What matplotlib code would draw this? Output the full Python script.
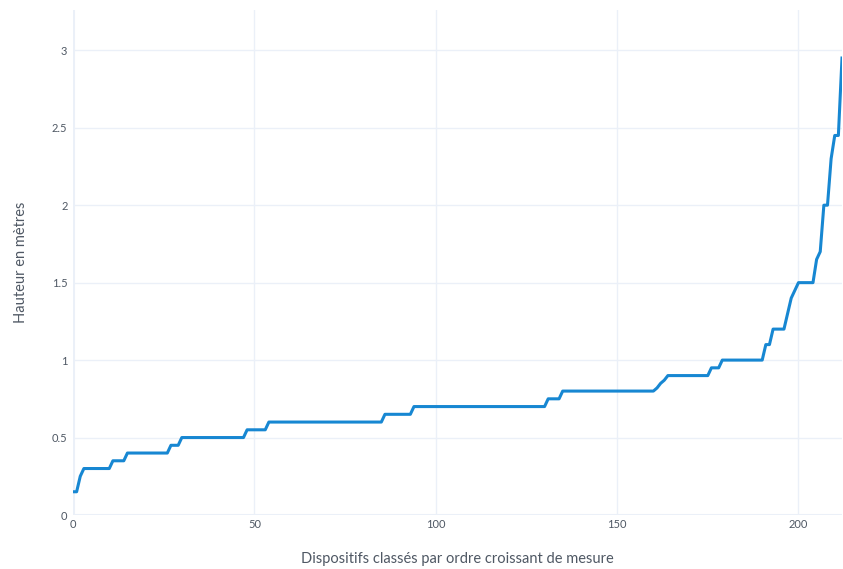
import matplotlib
matplotlib.use("Agg")
from matplotlib import pyplot as plt

hauteurs = (
    [0.15, 0.15, 0.25]
    + [0.3] * 8
    + [0.35] * 4
    + [0.4] * 12
    + [0.45] * 3
    + [0.5] * 18
    + [0.55] * 6
    + [0.6] * 32
    + [0.65] * 8
    + [0.7] * 37
    + [0.75] * 4
    + [0.8] * 26
    + [0.82, 0.85, 0.87]
    + [0.9] * 12
    + [0.95] * 3
    + [1.0] * 12
    + [1.1, 1.1]
    + [1.2] * 4
    + [1.3, 1.4, 1.45]
    + [1.5] * 5
    + [1.65, 1.7, 2.0, 2.0, 2.3, 2.45, 2.45, 2.95]
)
rangs = list(range(len(hauteurs)))

x_ticks = [0, 50, 100, 150, 200]
y_ticks = [0, 0.5, 1, 1.5, 2, 2.5, 3]
y_labels = ['0', '0.5', '1', '1.5', '2', '2.5', '3']

grid_c = '#ebf0f8'
text_c = '#4f5864'
plt.rcParams['font.family'] = ['Lato', 'DejaVu Sans']

fig = plt.figure(dpi=100, figsize=(8.43, 5.69))
ax = fig.add_axes([73 / 843, 54 / 569, 769 / 843, 505 / 569])

ax.plot(rangs, hauteurs, c='#1787d2', lw=2.2, solid_joinstyle='round', zorder=3)

ax.set_xlim(0, 212)
ax.set_ylim(0, 3.26)
ax.set_xticks(x_ticks)
ax.set_yticks(y_ticks)
ax.set_yticklabels(y_labels)
ax.grid(True, color=grid_c, lw=1)
ax.axhline(0, color=grid_c, lw=2.2, zorder=1)
ax.axvline(0, color=grid_c, lw=2.2, zorder=1)

for s in ax.spines.values():
    s.set_visible(False)
ax.tick_params(axis='both', length=0, labelsize=8, colors=text_c)
ax.tick_params(axis='x', pad=3)
ax.tick_params(axis='y', pad=4)

ax.set_xlabel('Dispositifs classés par ordre croissant de mesure', fontsize=10.5,
              color=text_c, labelpad=16)
ax.set_ylabel('Hauteur en mètres', fontsize=10.5, color=text_c, labelpad=17)

plt.savefig('out.png', dpi=100)
